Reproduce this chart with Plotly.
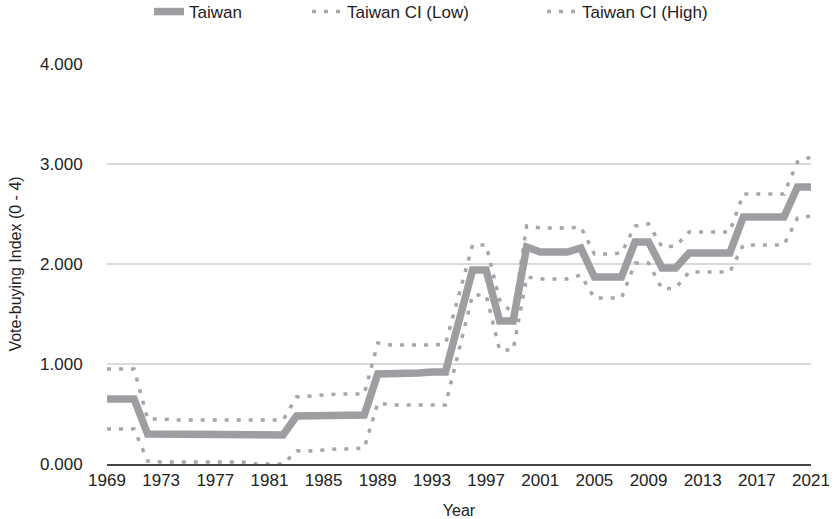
import plotly.graph_objects as go

years = list(range(1969, 2022))

taiwan = [0.65, 0.65, 0.65, 0.30, 0.30, 0.30, 0.30, 0.30, 0.29, 0.29, 0.29, 0.29, 0.29, 0.29,
          0.48, 0.48, 0.48, 0.49, 0.49, 0.49,
          0.90, 0.90, 0.91, 0.91, 0.92, 0.92,
          1.43, 1.94, 1.94, 1.43, 1.43,
          2.17, 2.12, 2.12, 2.12, 2.16,
          1.87, 1.87, 1.87, 2.22, 2.22, 1.96, 1.96,
          2.11, 2.11, 2.11, 2.11, 2.47, 2.47, 2.47, 2.47, 2.77, 2.77]

ci_low = [0.35, 0.35, 0.35, 0.03, 0.02, 0.02, 0.02, 0.02, 0.02, 0.02, 0.02, 0.00, 0.00, 0.00,
          0.13, 0.13, 0.14, 0.15, 0.15, 0.16,
          0.61, 0.59, 0.59, 0.59, 0.59, 0.59,
          1.14, 1.69, 1.69, 1.14, 1.14,
          1.87, 1.85, 1.85, 1.85, 1.89,
          1.66, 1.66, 1.66, 2.01, 2.01, 1.75, 1.76,
          1.92, 1.92, 1.92, 1.92, 2.19, 2.19, 2.19, 2.19, 2.46, 2.48]

ci_high = [0.95, 0.95, 0.95, 0.45, 0.45, 0.44, 0.44, 0.44, 0.44, 0.44, 0.44, 0.44, 0.44, 0.44,
           0.67, 0.68, 0.69, 0.70, 0.70, 0.70,
           1.21, 1.19, 1.19, 1.19, 1.19, 1.20,
           1.69, 2.19, 2.19, 1.64, 1.50,
           2.38, 2.36, 2.36, 2.36, 2.37,
           2.10, 2.10, 2.11, 2.38, 2.40, 2.17, 2.18,
           2.32, 2.32, 2.32, 2.32, 2.70, 2.70, 2.70, 2.70, 3.02, 3.07]

x_ticks = list(range(1969, 2022, 4))
y_ticks = [0, 1, 2, 3, 4]
y_tick_labels = ["0.000", "1.000", "2.000", "3.000", "4.000"]

FONT = "Liberation Sans, Arial, Helvetica, sans-serif"
MAIN_COLOR = "#9e9ea2"
CI_COLOR = "#a6a6aa"

fig = go.Figure()
fig.add_trace(go.Scatter(x=years, y=ci_low, mode="lines", name="Taiwan CI (Low)",
                         line=dict(color=CI_COLOR, width=3.5, dash="4px,8px"),
                         legend="legend2"))
fig.add_trace(go.Scatter(x=years, y=ci_high, mode="lines", name="Taiwan CI (High)",
                         line=dict(color=CI_COLOR, width=3.5, dash="4px,8px"),
                         legend="legend3"))
fig.add_trace(go.Scatter(x=years, y=taiwan, mode="lines", name="Taiwan",
                         line=dict(color=MAIN_COLOR, width=7.5), legend="legend"))

W, H = 835, 519
L, R, T, B = 107, 24, 64, 55

def leg(xpx):
    return dict(orientation="h", xref="container", x=xpx / W, xanchor="left",
                yref="container", y=1 - 12 / H, yanchor="middle",
                font=dict(family=FONT, size=17, color="#222222"),
                bgcolor="rgba(0,0,0,0)", borderwidth=0, traceorder="normal")

fig.update_layout(
    width=W, height=H,
    margin=dict(l=L, r=R, t=T, b=B, autoexpand=False),
    paper_bgcolor="white", plot_bgcolor="white",
    font=dict(family=FONT, size=17, color="#222222"),
    showlegend=True,
    legend=leg(149),
    legend2=leg(307),
    legend3=leg(542),
    xaxis=dict(range=[1969, 2021], tickmode="array", tickvals=x_ticks, automargin=False,
               showgrid=False, zeroline=False, showline=True, linecolor="#444444",
               linewidth=2, ticks="", tickfont=dict(family=FONT, size=17, color="#222222"),
               title=dict(text="Year", font=dict(family=FONT, size=16, color="#222222"),
                          standoff=23)),
    yaxis=dict(range=[0, 4], tickmode="array", tickvals=y_ticks, ticktext=y_tick_labels,
               automargin=False,
               showgrid=True, gridcolor="#d9d9d9", gridwidth=1.5, zeroline=False,
               showline=False, ticks="outside", ticklen=20, tickcolor="rgba(0,0,0,0)",
               tickfont=dict(family=FONT, size=17, color="#222222"),
               title=dict(text="Vote-buying Index (0 - 4)",
                          font=dict(family=FONT, size=16, color="#222222"), standoff=14)),
)

fig.write_html("out.html", config={"displayModeBar": False},
               post_script="document.body.style.margin='0px';")
